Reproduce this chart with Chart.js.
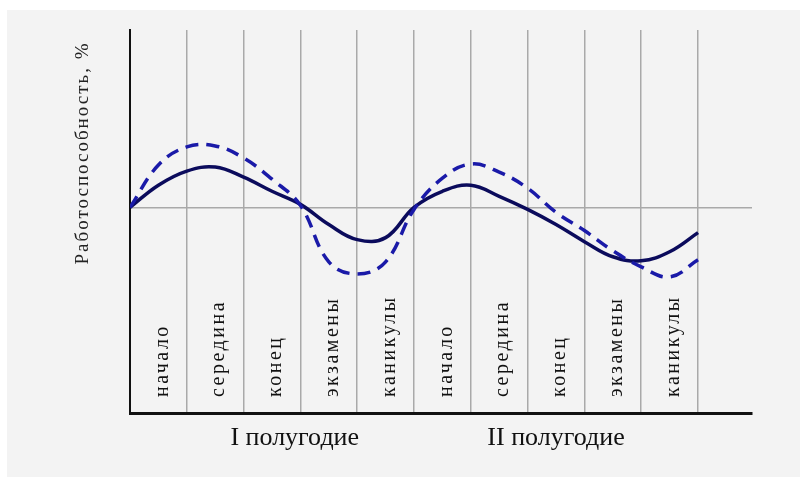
<!DOCTYPE html>
<html>
<head>
<meta charset="utf-8">
<script src="https://cdn.jsdelivr.net/npm/chart.js@4.4.0/dist/chart.umd.min.js"></script>
<style>
  html, body { margin: 0; padding: 0; background: #ffffff; }
  #chart { display: block; }
</style>
</head>
<body>
<canvas id="chart" width="800" height="477"></canvas>
<script>
// x = position along the school year, in periods (0..10)
const xPoints = [0, 0.5, 1, 1.5, 2, 2.5, 3, 3.5, 4, 4.5, 5, 5.5, 6, 6.5, 7, 7.5, 8, 8.5, 9, 9.5, 10];

// работоспособность, % (100 = норма)
const solidValues = [100, 111, 118, 120, 115, 108, 101.5, 91.5, 84, 85, 100, 108, 111, 105.5, 99, 91.5, 83, 75.5, 73.5, 78, 87.5];
const dashedValues = [100, 121, 130, 130.5, 124.5, 114, 101, 73, 67, 73, 99, 114.5, 121.5, 117.5, 109.5, 97.5, 88.5, 78.5, 70.5, 65.5, 74];

const periodLabels = ["начало", "середина", "конец", "экзамены", "каникулы",
                      "начало", "середина", "конец", "экзамены", "каникулы"];
const semesterLabels = ["I полугодие", "II полугодие"];
const semesterCenters = [2.9, 7.5];
const yTitle = "Работоспособность, %";
const normValue = 100;

function toPoints(values) {
  return values.map((v, i) => ({ x: xPoints[i], y: v }));
}

// фон, подписи периодов, полугодий и оси Y
const decorPlugin = {
  id: "decor",
  beforeDraw(chart) {
    const ctx = chart.ctx;
    ctx.save();
    ctx.fillStyle = "#ffffff";
    ctx.fillRect(0, 0, chart.width, chart.height);
    ctx.fillStyle = "#f3f3f3";
    ctx.fillRect(7, 10, chart.width - 7, chart.height - 10);
    ctx.restore();
  },
  beforeDatasetsDraw(chart) {
    const ctx = chart.ctx;
    const x = chart.scales.x;
    const area = chart.chartArea;
    ctx.save();
    ctx.fillStyle = "#111111";
    ctx.font = '20px "Liberation Serif", "Times New Roman", serif';
    ctx.letterSpacing = "2.5px";
    ctx.textAlign = "left";
    ctx.textBaseline = "middle";
    periodLabels.forEach((label, i) => {
      ctx.save();
      ctx.translate(x.getPixelForValue(i + 0.5) + 4, area.bottom - 16);
      ctx.rotate(-Math.PI / 2);
      ctx.fillText(label, 0, 0);
      ctx.restore();
    });
    ctx.restore();
  },
  afterDraw(chart) {
    const ctx = chart.ctx;
    const x = chart.scales.x;
    const area = chart.chartArea;
    ctx.save();
    ctx.fillStyle = "#111111";
    ctx.font = '26px "Liberation Serif", "Times New Roman", serif';
    ctx.textAlign = "center";
    ctx.textBaseline = "middle";
    semesterLabels.forEach((label, i) => {
      ctx.fillText(label, x.getPixelForValue(semesterCenters[i]), area.bottom + 25);
    });

    ctx.font = '19px "Liberation Serif", "Times New Roman", serif';
    ctx.letterSpacing = "2px";
    ctx.fillStyle = "#222222";
    ctx.translate(83, 153);
    ctx.rotate(-Math.PI / 2);
    ctx.fillText(yTitle, 0, 0);
    ctx.restore();
  },
};

new Chart(document.getElementById("chart"), {
  type: "line",
  data: {
    datasets: [
      {
        label: "dashed",
        data: toPoints(dashedValues),
        borderColor: "#1a1aa8",
        borderWidth: 3.5,
        borderDash: [13, 8],
        pointRadius: 0,
        tension: 0.4,
        fill: false,
      },
      {
        label: "solid",
        data: toPoints(solidValues),
        borderColor: "#0b0b5c",
        borderWidth: 3.5,
        pointRadius: 0,
        tension: 0.4,
        fill: false,
      },
    ],
  },
  options: {
    responsive: false,
    animation: false,
    layout: {
      padding: { left: 130, top: 30, right: 48, bottom: 64 },
    },
    plugins: {
      legend: { display: false },
      tooltip: { enabled: false },
    },
    scales: {
      x: {
        type: "linear",
        min: 0,
        max: 10.95,
        afterBuildTicks(axis) {
          axis.ticks = periodLabels.map((_, i) => ({ value: i })).concat([{ value: 10 }]);
        },
        ticks: { display: false },
        grid: { color: "#a9a9a9", lineWidth: 1.5, drawTicks: false },
        border: { color: "#111111", width: 3 },
      },
      y: {
        min: -2,
        max: 188,
        afterBuildTicks(axis) {
          axis.ticks = [{ value: normValue }];
        },
        ticks: { display: false },
        grid: { color: "#a9a9a9", lineWidth: 1.5, drawTicks: false },
        border: { color: "#111111", width: 2 },
      },
    },
  },
  plugins: [decorPlugin],
});
</script>
</body>
</html>
